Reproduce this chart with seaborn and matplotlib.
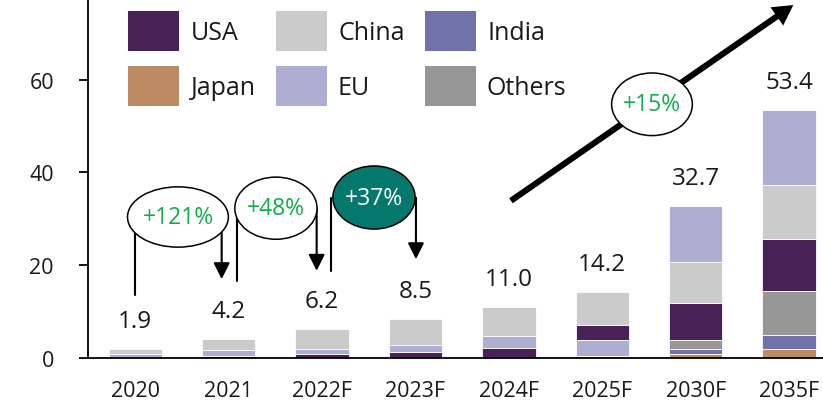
import numpy as np
import pandas as pd
import matplotlib
matplotlib.use('Agg')
import matplotlib.pyplot as plt
from matplotlib.patches import Ellipse, Patch
import seaborn as sns

years = ['2020', '2021', '2022F', '2023F', '2024F', '2025F', '2030F', '2035F']
totals = [1.9, 4.2, 6.2, 8.5, 11.0, 14.2, 32.7, 53.4]
usa = [0.3, 0.5, 0.9, 1.3, 2.2, 3.4, 8.0, 11.2]
china = [1.0, 2.5, 4.2, 5.6, 6.3, 7.0, 8.8, 11.6]
india = [0, 0, 0, 0, 0, 0, 1.0, 3.1]
japan = [0, 0, 0, 0, 0, 0.4, 0.9, 1.9]
eu = [0.6, 1.2, 1.1, 1.6, 2.5, 3.4, 12.0, 16.2]
others = [0, 0, 0, 0, 0, 0, 2.0, 9.4]

growth_labels = ['+121%', '+48%', '+37%', '+15%']

colors = {'USA': '#482257', 'China': '#CBCBCB', 'India': '#7272AA',
          'Japan': '#BC8A63', 'EU': '#AEAED2', 'Others': '#969696'}

df = pd.DataFrame({'year': years, 'USA': usa, 'China': china, 'India': india,
                   'Japan': japan, 'EU': eu, 'Others': others})

# stacking order changes between the early and forecast bars
order_early = ['Japan', 'India', 'Others', 'USA', 'EU', 'China']
order_2025 = ['Japan', 'India', 'Others', 'EU', 'USA', 'China']
order_late = ['Japan', 'India', 'Others', 'USA', 'China', 'EU']
stack_orders = [order_early] * 5 + [order_2025] + [order_late] * 2

bottoms = {k: [] for k in colors}
for i, order in enumerate(stack_orders):
    acc = 0.0
    for k in order:
        bottoms[k].append(acc)
        acc += df.loc[i, k]

sns.set_style('white')
plt.rcParams['font.family'] = ['Open Sans', 'DejaVu Sans']

W, H = 823, 402
fig = plt.figure(figsize=(W / 100, H / 100), dpi=100)
ax = fig.add_axes([88 / W, 43 / H, 735 / W, 359 / H])

for k in colors:
    sns.barplot(data=df, x='year', y=k, bottom=bottoms[k], color=colors[k],
                saturation=1, width=0.57, errorbar=None, ax=ax,
                edgecolor='white', linewidth=0.6)

for i, t in enumerate(totals):
    ax.text(i, t + 6.0, f'{t:.1f}', ha='center', va='center', fontsize=17.5, color='#1a1a1a')

ax.set_xlim(-0.506, 7.363)
ax.set_ylim(0, 77.4)
ax.set_yticks([0, 20, 40, 60])
ax.set_xlabel('')
ax.set_ylabel('')
sns.despine(ax=ax)
for s in ['left', 'bottom']:
    ax.spines[s].set_color('black')
    ax.spines[s].set_linewidth(1.3)
ax.tick_params(axis='x', length=0, pad=16, labelsize=15.5, labelcolor='#1a1a1a')
ax.tick_params(axis='y', length=6.5, width=1.3, pad=18, labelsize=15.5, left=True,
               color='black', labelcolor='#1a1a1a')

green = '#12AD4B'
teal = '#05786E'
head = '-|>,head_length=0.7,head_width=0.35'

# growth bubbles: (centre x, centre y, width, height, line x, line bottom, arrow x, arrow tip)
bubbles = [
    (0.457, 30.4, 1.08, 13.0, 0.0, 13.6, 0.925, 17.0),
    (1.506, 32.3, 0.88, 13.4, 1.085, 16.5, 1.942, 18.8),
    (2.556, 34.6, 0.88, 13.6, 2.095, 18.8, 3.005, 21.3),
]
for j, (cx, cy, w, h, lx, ly, axx, ay) in enumerate(bubbles):
    ax.plot([lx, lx], [cy, ly], color='black', lw=1.5, zorder=3)
    ax.annotate('', xy=(axx, ay), xytext=(axx, cy),
                arrowprops=dict(arrowstyle=head, color='black', lw=1.5,
                                mutation_scale=14, shrinkA=0, shrinkB=0), zorder=3)
    filled = j == 2
    ax.add_patch(Ellipse((cx, cy), w, h, facecolor=teal if filled else 'white',
                         edgecolor='black', lw=1.1, zorder=4))
    ax.text(cx, cy, growth_labels[j], ha='center', va='center', fontsize=16.5,
            color='white' if filled else green, zorder=5)

ax.annotate('', xy=(7.045, 76.1), xytext=(4.022, 33.9),
            arrowprops=dict(arrowstyle='simple,head_length=0.72,head_width=0.8,tail_width=0.22',
                            mutation_scale=20, fc='black', ec='none', shrinkA=0, shrinkB=0),
            zorder=3)
ax.add_patch(Ellipse((5.532, 54.7), 0.864, 13.5, facecolor='white',
                     edgecolor='black', lw=1.1, zorder=4))
ax.text(5.532, 54.7, growth_labels[3], ha='center', va='center', fontsize=16.5,
        color=green, zorder=5)

legend_order = ['USA', 'Japan', 'China', 'EU', 'India', 'Others']
handles = [Patch(facecolor=colors[k], edgecolor='none', label=k) for k in legend_order]
leg = fig.legend(handles=handles, ncol=3, loc='upper left', bbox_to_anchor=(128 / W, 1 - 12 / H),
                 frameon=False, fontsize=18, handlelength=2.05, handleheight=2.1,
                 handletextpad=0.45, labelspacing=0.58, columnspacing=0.8,
                 borderpad=0, borderaxespad=0)
for txt in leg.get_texts():
    txt.set_color('#1a1a1a')

fig.savefig('out.png', dpi=100)
